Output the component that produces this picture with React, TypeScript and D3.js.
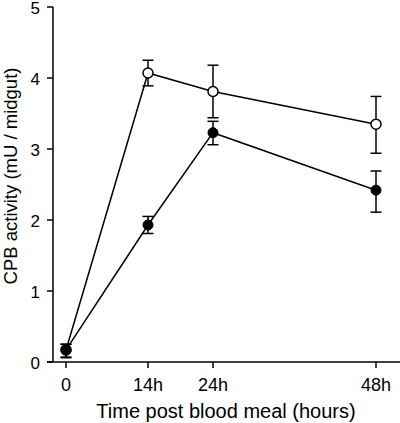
import React from "react";
import * as d3 from "d3";

const hours = [0, 14, 24, 48];
const xTickLabels = ["0", "14h", "24h", "48h"];
const yTicks = [0, 1, 2, 3, 4, 5];

const openMean = [0.17, 4.07, 3.81, 3.35];
const openHi = [0.25, 4.25, 4.18, 3.74];
const openLo = [0.07, 3.89, 3.44, 2.94];

const filledMean = [0.17, 1.93, 3.23, 2.42];
const filledHi = [0.25, 2.05, 3.39, 2.69];
const filledLo = [0.06, 1.81, 3.06, 2.11];

const W = 400;
const H = 423;
const FONT = "Liberation Sans, Arial, sans-serif";

export default function App() {
  const x = d3.scaleLinear().domain([0, 14, 24, 48]).range([66, 148, 213, 376]);
  const y = d3.scaleLinear().domain([0, 5]).range([362, 7]);
  const line = d3
    .line<number>()
    .x((_, i) => x(hours[i]))
    .y((d) => y(d));

  const axisLeft = 53;
  const axisBottom = y(0);

  const errBars = (hi: number[], lo: number[], key: string) =>
    hours.map((h, i) => (
      <g key={key + i} stroke="#000" strokeWidth={1.5}>
        <line x1={x(h)} x2={x(h)} y1={y(hi[i])} y2={y(lo[i])} />
        <line x1={x(h) - 5.5} x2={x(h) + 5.5} y1={y(hi[i])} y2={y(hi[i])} />
        <line x1={x(h) - 5.5} x2={x(h) + 5.5} y1={y(lo[i])} y2={y(lo[i])} />
      </g>
    ));

  return (
    <svg
      width={W}
      height={H}
      style={{ position: "absolute", left: 0, top: 0, background: "#fff" }}
      fontFamily={FONT}
    >
      <rect width={W} height={H} fill="#fff" />
      {/* axes */}
      <line x1={axisLeft} x2={axisLeft} y1={y(5)} y2={axisBottom} stroke="#000" strokeWidth={1.5} />
      <line x1={47} x2={400} y1={axisBottom} y2={axisBottom} stroke="#000" strokeWidth={1.5} />
      {yTicks.map((t) => (
        <g key={"yt" + t}>
          <line x1={47} x2={axisLeft} y1={y(t)} y2={y(t)} stroke="#000" strokeWidth={1.5} />
          <text x={40} y={y(t)} dy="0.42em" textAnchor="end" fontSize={17} fill="#000">
            {t}
          </text>
        </g>
      ))}
      {hours.map((h, i) => (
        <g key={"xt" + h}>
          <line x1={x(h)} x2={x(h)} y1={axisBottom} y2={axisBottom + 6} stroke="#000" strokeWidth={1.5} />
          <text x={x(h)} y={391} textAnchor="middle" fontSize={18} fill="#000">
            {xTickLabels[i]}
          </text>
        </g>
      ))}
      <text x={226} y={418} textAnchor="middle" fontSize={20} fill="#000">
        Time post blood meal (hours)
      </text>
      <text
        transform={`translate(17,176) rotate(-90)`}
        textAnchor="middle"
        fontSize={18.5}
        fill="#000"
      >
        CPB activity (mU / midgut)
      </text>

      {/* lines */}
      <path d={line(openMean) || ""} fill="none" stroke="#000" strokeWidth={1.5} />
      <path d={line(filledMean) || ""} fill="none" stroke="#000" strokeWidth={1.5} />

      {errBars(openHi, openLo, "o")}
      {errBars(filledHi, filledLo, "f")}

      {openMean.map((v, i) => (
        <circle key={"oc" + i} cx={x(hours[i])} cy={y(v)} r={5} fill="#fff" stroke="#000" strokeWidth={1.5} />
      ))}
      {filledMean.map((v, i) => (
        <circle key={"fc" + i} cx={x(hours[i])} cy={y(v)} r={5} fill="#000" stroke="#000" strokeWidth={1} />
      ))}
    </svg>
  );
}
